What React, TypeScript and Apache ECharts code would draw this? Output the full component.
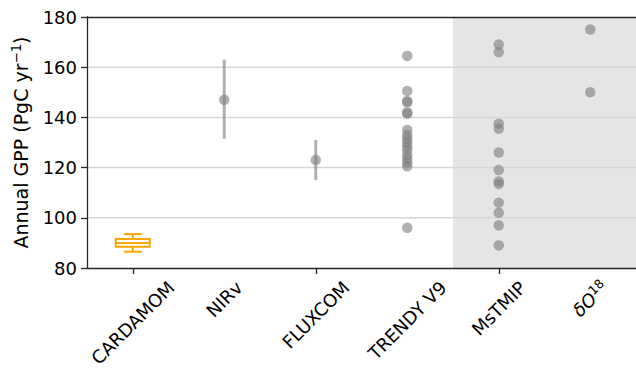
import React, { useEffect, useRef } from 'react';
import * as echarts from 'echarts';

const FONT = '"DejaVu Sans", sans-serif';

const categories = ['CARDAMOM', 'NIRv', 'FLUXCOM', 'TRENDY V9', 'MsTMIP', 'δO18'];
const categoryLabels = ['CARDAMOM', 'NIRv', 'FLUXCOM', 'TRENDY V9', 'MsTMIP', '{it|δO}{sup|18}'];

// CARDAMOM box: min, q1, median, q3, max
const cardamomBox = [86.5, 88.5, 90.0, 91.6, 93.5];

const nirvValues = [147];
const fluxcomValues = [123];
const trendyValues = [164.5, 150.5, 146.5, 146, 142, 141.5, 135, 133, 131.5, 130, 128.5, 127, 125, 123.5, 122, 120.5, 96];
const mstmipValues = [169, 166, 137.5, 135.5, 126, 119, 114.5, 113.5, 106, 102, 97, 89];
const d18oValues = [175, 150];

const errorBarCategories = [1, 2];
const errorBarLow = [131.5, 115];
const errorBarHigh = [163, 131];

const yMin = 80;
const yMax = 180;
const yStep = 20;
const gridValues = [100, 120, 140, 160];
const shadedRange = [3.5, 5.5];

function measure(text: string, size: number, style = 'normal') {
  const c = document.createElement('canvas').getContext('2d');
  if (!c) return text.length * size * 0.65;
  c.font = `${style} ${size}px "DejaVu Sans"`;
  return c.measureText(text).width;
}

export default function App() {
  const ref = useRef<HTMLDivElement>(null);

  useEffect(() => {
    if (!ref.current) return;
    const chart = echarts.init(ref.current, null, { renderer: 'svg' });

    const labelWidths = categories.map((c, i) =>
      i === 5 ? measure('δO', 18, 'italic') + measure('18', 12.6) : measure(c, 18)
    );

    const scatterData = [
      ...nirvValues.map((v) => [1, v]),
      ...fluxcomValues.map((v) => [2, v]),
      ...trendyValues.map((v) => [3, v]),
      ...mstmipValues.map((v) => [4, v]),
      ...d18oValues.map((v) => [5, v]),
    ];

    const axisColor = '#262626';

    chart.setOption({
      animation: false,
      grid: { left: 87, right: -2, top: 17, bottom: 101, containLabel: false },
      xAxis: [
        {
          type: 'category',
          data: categories,
          position: 'bottom',
          z: 10,
          axisLine: { show: true, onZero: false, lineStyle: { color: axisColor, width: 1.3 } },
          axisTick: { show: true, alignWithLabel: true, length: 6, lineStyle: { color: axisColor, width: 1.3 } },
          axisLabel: { show: false },
          splitLine: { show: false },
        },
        {
          type: 'value',
          min: -0.5,
          max: 5.5,
          position: 'top',
          z: 10,
          axisLine: { show: true, onZero: false, lineStyle: { color: axisColor, width: 1.3 } },
          axisTick: { show: false },
          axisLabel: { show: false },
          splitLine: { show: false },
        },
      ],
      yAxis: {
        type: 'value',
        min: yMin,
        max: yMax,
        interval: yStep,
        position: 'left',
        z: 10,
        axisLine: { show: true, onZero: false, lineStyle: { color: axisColor, width: 1.3 } },
        axisTick: { show: true, length: 6, lineStyle: { color: axisColor, width: 1.3 } },
        axisLabel: { fontSize: 18, color: '#000', fontFamily: FONT, margin: 10 },
        splitLine: { show: false },
        name: 'Annual GPP (PgC yr{sup|−1})',
        nameLocation: 'middle',
        nameGap: 55,
        nameTextStyle: {
          fontSize: 19,
          color: '#000',
          fontFamily: FONT,
          rich: {
            sup: { fontSize: 13.3, color: '#000', fontFamily: FONT, padding: [0, 0, 9, 0] },
          },
        },
      },
      series: [
        {
          type: 'custom',
          name: 'shade',
          xAxisIndex: 1,
          yAxisIndex: 0,
          z: 1,
          silent: true,
          data: [[shadedRange[0], shadedRange[1]]],
          renderItem: (params: any, api: any) => {
            const a = api.coord([api.value(0), yMax]);
            const b = api.coord([api.value(1), yMin]);
            return {
              type: 'rect',
              shape: { x: a[0], y: a[1], width: b[0] - a[0], height: b[1] - a[1] },
              style: { fill: '#e5e5e5' },
            };
          },
        },
        {
          type: 'custom',
          name: 'grid',
          xAxisIndex: 1,
          yAxisIndex: 0,
          z: 2,
          silent: true,
          data: gridValues.map((v) => [0, v]),
          renderItem: (params: any, api: any) => {
            const cs = params.coordSys;
            const y = api.coord([0, api.value(1)])[1];
            return {
              type: 'line',
              shape: { x1: cs.x, y1: y, x2: cs.x + cs.width, y2: y },
              style: { stroke: '#d6d6d6', lineWidth: 1.5 },
            };
          },
        },
        {
          type: 'custom',
          name: 'errorbars',
          xAxisIndex: 1,
          yAxisIndex: 0,
          z: 3,
          silent: true,
          data: errorBarCategories.map((c, i) => [c, errorBarLow[i], errorBarHigh[i]]),
          renderItem: (params: any, api: any) => {
            const lo = api.coord([api.value(0), api.value(1)]);
            const hi = api.coord([api.value(0), api.value(2)]);
            return {
              type: 'line',
              shape: { x1: lo[0], y1: lo[1], x2: hi[0], y2: hi[1] },
              style: { stroke: 'rgba(128,128,128,0.62)', lineWidth: 3 },
            };
          },
        },
        {
          type: 'custom',
          name: 'CARDAMOM',
          xAxisIndex: 1,
          yAxisIndex: 0,
          z: 3,
          silent: true,
          data: [[0, ...cardamomBox]],
          renderItem: (params: any, api: any) => {
            const x = api.coord([api.value(0), api.value(3)])[0];
            const yv = [1, 2, 3, 4, 5].map((d) => api.coord([0, api.value(d)])[1]);
            const hw = 17;
            const cw = 9;
            const st = { stroke: '#FFA500', lineWidth: 2, fill: null };
            return {
              type: 'group',
              children: [
                { type: 'rect', shape: { x: x - hw, y: yv[3], width: 2 * hw, height: yv[1] - yv[3] }, style: { stroke: '#FFA500', lineWidth: 2, fill: 'none' } },
                { type: 'line', shape: { x1: x - hw, y1: yv[2], x2: x + hw, y2: yv[2] }, style: st },
                { type: 'line', shape: { x1: x, y1: yv[1], x2: x, y2: yv[0] }, style: st },
                { type: 'line', shape: { x1: x, y1: yv[3], x2: x, y2: yv[4] }, style: st },
                { type: 'line', shape: { x1: x - cw, y1: yv[0], x2: x + cw, y2: yv[0] }, style: st },
                { type: 'line', shape: { x1: x - cw, y1: yv[4], x2: x + cw, y2: yv[4] }, style: st },
              ],
            };
          },
        },
        {
          type: 'scatter',
          name: 'models',
          xAxisIndex: 1,
          yAxisIndex: 0,
          z: 4,
          silent: true,
          symbol: 'circle',
          symbolSize: 10.5,
          itemStyle: { color: '#808080', opacity: 0.62 },
          data: scatterData,
        },
        {
          type: 'custom',
          name: 'labels',
          xAxisIndex: 1,
          yAxisIndex: 0,
          z: 5,
          silent: true,
          data: categories.map((c, i) => [i, yMin]),
          renderItem: (params: any, api: any) => {
            const i = api.value(0);
            const p = api.coord([i, yMin]);
            const w = labelWidths[i];
            const h = 18;
            const half = (w + h) / Math.SQRT2 / 2;
            return {
              type: 'text',
              x: p[0],
              y: p[1] + 10 + half,
              rotation: Math.PI / 4,
              style: {
                text: categoryLabels[i],
                fontSize: 18,
                fontFamily: FONT,
                fill: '#000',
                align: 'center',
                verticalAlign: 'middle',
                rich: {
                  it: { fontSize: 18, fontStyle: 'italic', fontFamily: FONT, fill: '#000' },
                  sup: { fontSize: 12.6, fontFamily: FONT, fill: '#000', padding: [0, 0, 9, 0] },
                },
              },
            };
          },
        },
      ],
    });

    return () => chart.dispose();
  }, []);

  return (
    <div
      ref={ref}
      style={{ position: 'absolute', left: 0, top: 0, width: 636, height: 369, background: '#fff' }}
    />
  );
}
